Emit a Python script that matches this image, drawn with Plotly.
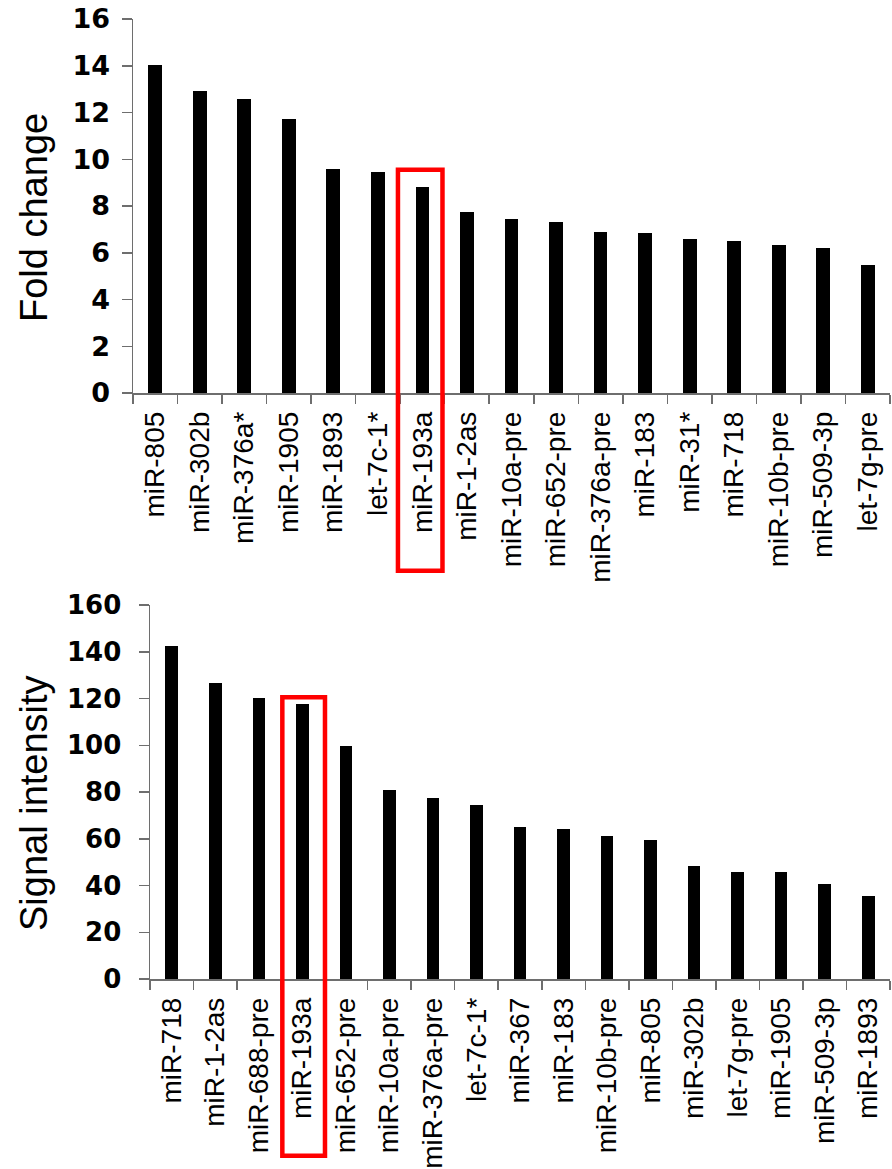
import plotly.graph_objects as go

# ---- data ----
fold_categories = ["miR-805", "miR-302b", "miR-376a*", "miR-1905", "miR-1893", "let-7c-1*",
                   "miR-193a", "miR-1-2as", "miR-10a-pre", "miR-652-pre", "miR-376a-pre",
                   "miR-183", "miR-31*", "miR-718", "miR-10b-pre", "miR-509-3p", "let-7g-pre"]
fold_values = [14.05, 12.9, 12.58, 11.71, 9.6, 9.47, 8.8, 7.76, 7.45, 7.33, 6.9,
               6.86, 6.57, 6.5, 6.35, 6.19, 5.48]

signal_categories = ["miR-718", "miR-1-2as", "miR-688-pre", "miR-193a", "miR-652-pre",
                     "miR-10a-pre", "miR-376a-pre", "let-7c-1*", "miR-367", "miR-183",
                     "miR-10b-pre", "miR-805", "miR-302b", "let-7g-pre", "miR-1905",
                     "miR-509-3p", "miR-1893"]
signal_values = [142.6, 126.8, 120.1, 117.6, 99.8, 80.7, 77.6, 74.6, 65.0, 64.2,
                 61.3, 59.6, 48.5, 45.6, 45.6, 40.5, 35.7]

fold_ticks = [0, 2, 4, 6, 8, 10, 12, 14, 16]
signal_ticks = [0, 20, 40, 60, 80, 100, 120, 140, 160]

highlight = "miR-193a"

W, H = 892, 1169
AX_COLOR = "#6e6e6e"
ARIAL = "Arial, Liberation Sans, sans-serif"
BOLD_NUM = "DejaVu Sans, Arial, sans-serif"

fig = go.Figure()
fig.add_trace(go.Bar(x=fold_categories, y=fold_values, width=0.31,
                     marker=dict(color="black", line=dict(width=0)),
                     xaxis="x", yaxis="y", showlegend=False))
fig.add_trace(go.Bar(x=signal_categories, y=signal_values, width=0.29,
                     marker=dict(color="black", line=dict(width=0)),
                     xaxis="x2", yaxis="y2", showlegend=False))

def xaxis_cfg(domain, anchor, cats):
    return dict(domain=domain, anchor=anchor, type="category",
                categoryorder="array", categoryarray=cats,
                range=[-0.5, len(cats) - 0.5], automargin=False,
                showline=True, linecolor=AX_COLOR, linewidth=1.5,
                ticks="outside", tickson="boundaries", ticklen=9,
                tickcolor=AX_COLOR, tickwidth=1.5,
                tickangle=-90, ticklabelstandoff=6,
                tickfont=dict(family=ARIAL, size=28, color="black"),
                showgrid=False, zeroline=False, fixedrange=True)

def yaxis_cfg(domain, anchor, ticks, size, standoff):
    return dict(domain=domain, anchor=anchor, automargin=False,
                range=[ticks[0], ticks[-1]], tickvals=ticks,
                showline=True, linecolor=AX_COLOR, linewidth=1.5,
                ticks="outside", ticklen=10, tickcolor=AX_COLOR, tickwidth=1.5,
                ticklabelstandoff=standoff,
                tickfont=dict(family=BOLD_NUM, size=size, color="black", weight="bold"),
                showgrid=False, zeroline=False, fixedrange=True)

top_x = [133 / W, 890 / W]
top_y = [1 - 393 / H, 1 - 19 / H]
bot_x = [150 / W, 890 / W]
bot_y = [1 - 979 / H, 1 - 605 / H]

fig.update_layout(
    width=W, height=H,
    margin=dict(l=0, r=0, t=0, b=0, autoexpand=False),
    paper_bgcolor="white", plot_bgcolor="white",
    bargap=0, hovermode=False,
    xaxis=xaxis_cfg(top_x, "y", fold_categories),
    yaxis=yaxis_cfg(top_y, "x", fold_ticks, 27, 6),
    xaxis2=xaxis_cfg(bot_x, "y2", signal_categories),
    yaxis2=yaxis_cfg(bot_y, "x2", signal_ticks, 26, 12),
)

# y-axis titles
fig.add_annotation(text="Fold change", textangle=-90, xref="paper", yref="paper",
                   x=34 / W, y=1 - 218 / H, xanchor="center", yanchor="middle",
                   showarrow=False, font=dict(family=ARIAL, size=38, color="black"))
fig.add_annotation(text="Signal intensity", textangle=-90, xref="paper", yref="paper",
                   x=34 / W, y=1 - 803 / H, xanchor="center", yanchor="middle",
                   showarrow=False, font=dict(family=ARIAL, size=38, color="black"))

# red highlight boxes around miR-193a (positions derived from category index)
i_top = fold_categories.index(highlight)
n_top = len(fold_categories)
fig.add_shape(type="rect", xref="x domain", yref="y domain",
              x0=(i_top + 0.5 - 0.55) / n_top, x1=(i_top + 0.5 + 0.45) / n_top,
              y0=-0.475, y1=9.55 / fold_ticks[-1],
              line=dict(color="#ff0000", width=4.5), fillcolor="rgba(0,0,0,0)")

i_bot = signal_categories.index(highlight)
n_bot = len(signal_categories)
fig.add_shape(type="rect", xref="x2 domain", yref="y2 domain",
              x0=(i_bot + 0.5 - 0.46) / n_bot, x1=(i_bot + 0.5 + 0.52) / n_bot,
              y0=-0.4725, y1=120.5 / signal_ticks[-1],
              line=dict(color="#ff0000", width=4.5), fillcolor="rgba(0,0,0,0)")

fig.write_html("out.html", config={"displayModeBar": False, "staticPlot": True},
               post_script="document.body.style.margin='0';document.body.style.padding='0';")
